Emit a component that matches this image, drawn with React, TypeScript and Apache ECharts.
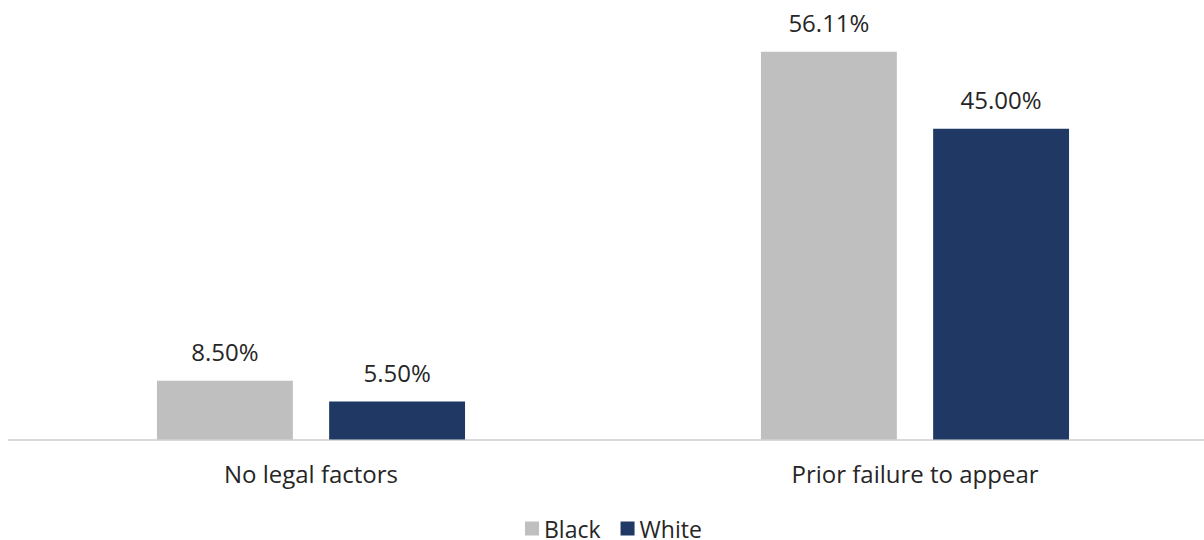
import React, { useEffect, useRef } from "react";
import * as echarts from "echarts";

const categories = ["No legal factors", "Prior failure to appear"];
const blackValues = [8.5, 56.11];
const whiteValues = [5.5, 45.0];
const seriesNames = ["Black", "White"];

export default function App() {
  const ref = useRef<HTMLDivElement>(null);
  useEffect(() => {
    if (!ref.current) return;
    const chart = echarts.init(ref.current, null, { renderer: "svg" });
    const font = "'Open Sans', sans-serif";
    const fs = 24;
    const label = {
      show: true,
      position: "top" as const,
      distance: 17,
      fontFamily: font,
      fontSize: fs,
      color: "#262626",
      formatter: (p: any) => Number(p.value).toFixed(2) + "%",
    };
    chart.setOption({
      animation: false,
      textStyle: { fontFamily: font },
      grid: { left: 9, right: 0, top: 25, bottom: 100.5, containLabel: false },
      legend: {
        top: 517,
        left: 525,
        padding: 0,
        itemWidth: 14,
        itemHeight: 14,
        itemGap: 20,
        icon: "rect",
        textStyle: { fontFamily: font, fontSize: 23, color: "#262626" },
        data: seriesNames,
      },
      xAxis: {
        type: "category",
        data: categories,
        axisLine: { show: true, lineStyle: { color: "#d9d9d9", width: 2 } },
        axisTick: { show: false },
        axisLabel: { fontFamily: font, fontSize: fs, color: "#262626", margin: 22 },
      },
      yAxis: {
        type: "value",
        min: 0,
        max: 60,
        show: false,
        splitLine: { show: false },
      },
      series: [
        {
          name: seriesNames[0],
          type: "bar",
          data: blackValues,
          barWidth: "22.5%",
          barGap: "26.7%",
          itemStyle: { color: "#bfbfbf" },
          label,
        },
        {
          name: seriesNames[1],
          type: "bar",
          data: whiteValues,
          barWidth: "22.5%",
          barGap: "26.7%",
          itemStyle: { color: "#203864" },
          label,
        },
      ],
    });
    return () => chart.dispose();
  }, []);
  return (
    <div style={{ position: "absolute", left: 0, top: 0, width: 1204, height: 540, overflow: "hidden" }}>
      <div ref={ref} style={{ width: 1217, height: 540 }} />
    </div>
  );
}
